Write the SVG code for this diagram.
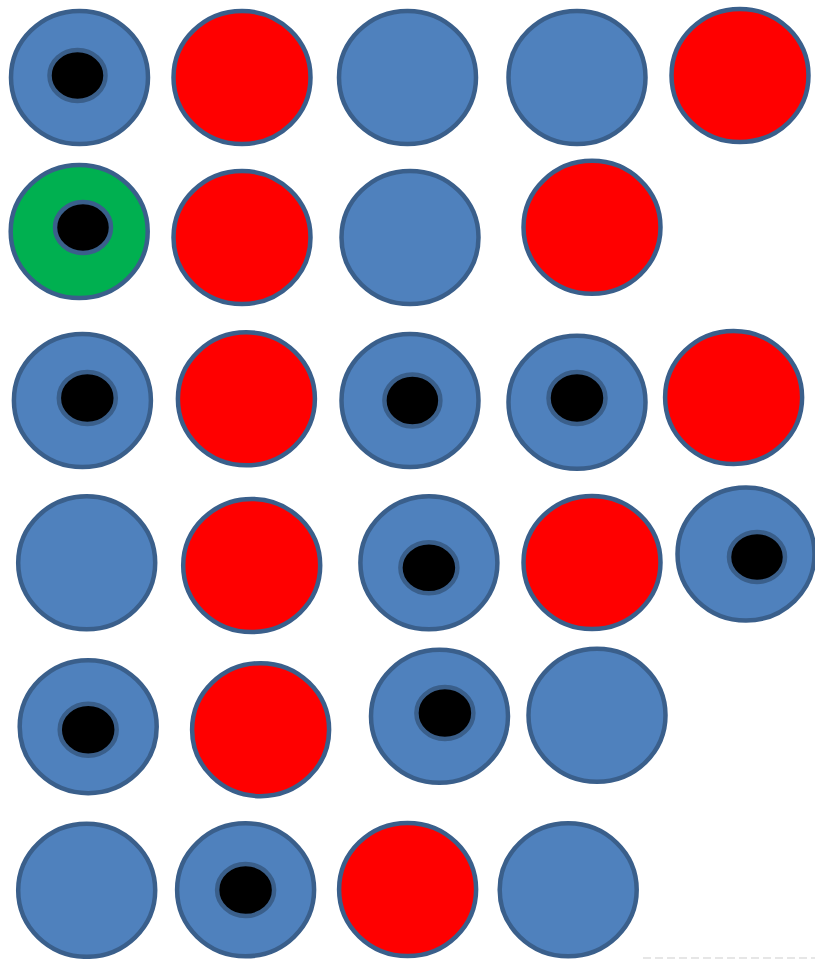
<svg xmlns="http://www.w3.org/2000/svg" width="815" height="959" viewBox="0 0 815 959">
<style>
.o{stroke:#3A5F8B;stroke-width:4.5}
.b{fill:#4F81BD}
.r{fill:#FF0000}
.g{fill:#00B050}
.h{fill:#000000;stroke:#3A5F8B;stroke-width:4.5}
</style>
<rect width="815" height="959" fill="#FFFFFF"/>
<!-- row 1 -->
<g id="c1-1"><ellipse class="o b" cx="79.5" cy="77.5" rx="68.5" ry="66.5"/><ellipse class="h" cx="77.5" cy="75.5" rx="28" ry="25.5"/></g>
<g id="c1-2"><ellipse class="o r" cx="242" cy="77.5" rx="68.5" ry="66.5"/></g>
<g id="c1-3"><ellipse class="o b" cx="407.5" cy="77.5" rx="68.5" ry="66.5"/></g>
<g id="c1-4"><ellipse class="o b" cx="577" cy="77.5" rx="68.5" ry="66.5"/></g>
<g id="c1-5"><ellipse class="o r" cx="740" cy="75.5" rx="68.5" ry="66.5"/></g>
<!-- row 2 -->
<g id="c2-1"><ellipse class="o g" cx="79.2" cy="231.5" rx="68.5" ry="66.5"/><ellipse class="h" cx="83" cy="227.5" rx="28" ry="25.5"/></g>
<g id="c2-2"><ellipse class="o r" cx="242" cy="237.5" rx="68.5" ry="66.5"/></g>
<g id="c2-3"><ellipse class="o b" cx="410" cy="237.5" rx="68.5" ry="66.5"/></g>
<g id="c2-4"><ellipse class="o r" cx="592" cy="227.3" rx="68.5" ry="66.5"/></g>
<!-- row 3 -->
<g id="c3-1"><ellipse class="o b" cx="82.4" cy="400.5" rx="68.5" ry="66.5"/><ellipse class="h" cx="87.3" cy="398" rx="28.5" ry="26"/></g>
<g id="c3-2"><ellipse class="o r" cx="246.4" cy="398.8" rx="68.5" ry="66.5"/></g>
<g id="c3-3"><ellipse class="o b" cx="410" cy="400.5" rx="68.5" ry="66.5"/><ellipse class="h" cx="412.4" cy="400.5" rx="28" ry="26"/></g>
<g id="c3-4"><ellipse class="o b" cx="577" cy="402.3" rx="68.5" ry="66.5"/><ellipse class="h" cx="577" cy="398" rx="28.5" ry="26"/></g>
<g id="c3-5"><ellipse class="o r" cx="733.6" cy="397.5" rx="68.5" ry="66.5"/></g>
<!-- row 4 -->
<g id="c4-1"><ellipse class="o b" cx="86.7" cy="562.8" rx="68.5" ry="66.5"/></g>
<g id="c4-2"><ellipse class="o r" cx="251.7" cy="565.5" rx="68.5" ry="66.5"/></g>
<g id="c4-3"><ellipse class="o b" cx="428.9" cy="562.8" rx="68.5" ry="66.5"/><ellipse class="h" cx="428.9" cy="567.8" rx="28.5" ry="25.5"/></g>
<g id="c4-4"><ellipse class="o r" cx="592" cy="562.5" rx="68.5" ry="66.5"/></g>
<g id="c4-5"><ellipse class="o b" cx="746" cy="554" rx="68.5" ry="66.5"/><ellipse class="h" cx="757" cy="557" rx="28" ry="25"/></g>
<!-- row 5 -->
<g id="c5-1"><ellipse class="o b" cx="88.2" cy="726.7" rx="68.5" ry="66.5"/><ellipse class="h" cx="88.2" cy="729.7" rx="28.5" ry="26"/></g>
<g id="c5-2"><ellipse class="o r" cx="260.6" cy="729.7" rx="68.5" ry="66.5"/></g>
<g id="c5-3"><ellipse class="o b" cx="439.5" cy="716.3" rx="68.5" ry="66.5"/><ellipse class="h" cx="444.9" cy="713" rx="28.5" ry="26"/></g>
<g id="c5-4"><ellipse class="o b" cx="597" cy="715.3" rx="68.5" ry="66.5"/></g>
<!-- row 6 -->
<g id="c6-1"><ellipse class="o b" cx="86.7" cy="890.3" rx="68.5" ry="66.5"/></g>
<g id="c6-2"><ellipse class="o b" cx="245.6" cy="889.8" rx="68.5" ry="66.5"/><ellipse class="h" cx="245.6" cy="890" rx="28.5" ry="26"/></g>
<g id="c6-3"><ellipse class="o r" cx="407.6" cy="889.5" rx="68.5" ry="66.5"/></g>
<g id="c6-4"><ellipse class="o b" cx="568.2" cy="889.8" rx="68.5" ry="66.5"/></g>
<line x1="643" y1="958" x2="815" y2="958" stroke="#E6E6E6" stroke-width="2" stroke-dasharray="8 4"/>
</svg>
